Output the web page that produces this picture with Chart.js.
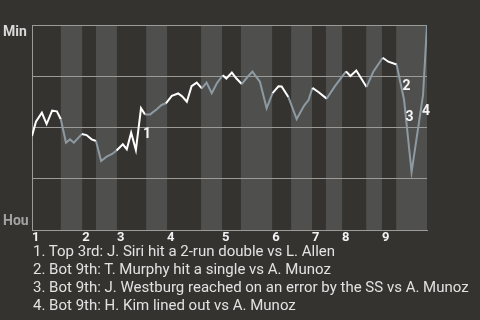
<!DOCTYPE html>
<html>
<head>
<meta charset="utf-8">
<script src="https://cdn.jsdelivr.net/npm/chart.js@4"></script>
<style>
  html, body { margin: 0; padding: 0; background: #353330; }
  body { width: 480px; height: 320px; overflow: hidden; position: relative; font-family: Roboto, sans-serif; }
  #wrap { position: absolute; left: 0; top: 0; width: 480px; height: 250px; }
  #notes { position: absolute; left: 33px; top: 243.4px; margin: 0; padding: 0; list-style: none;
           color: #e2e2e2; font-size: 15px; line-height: 17.8px; white-space: nowrap; }
</style>
</head>
<body>
<div id="wrap"><canvas id="wpChart"></canvas></div>
<ul id="notes"></ul>
<script>
// game progress (0 = first pitch, 100 = final out)
var playX = [0, 1.0, 2.5, 3.7, 5.1, 6.3, 7.3, 8.6, 9.6, 10.6, 11.6, 12.6, 13.8, 15.1, 16.2, 17.5, 18.9, 20.3,
  21.4, 23.0, 24.0, 25.1, 26.3, 27.6, 28.6, 29.9, 31.6, 32.8, 33.9, 35.4, 37.0, 38.0, 39.2, 40.4, 41.7,
  43.0, 44.2, 45.5, 46.8, 48.3, 49.2, 50.6, 51.7, 53.1, 54.5, 55.8, 57.7, 59.4, 60.9, 62.4, 63.2, 64.9,
  67.0, 68.9, 70.0, 71.0, 72.5, 74.6, 76.7, 79.5, 80.6, 82.1, 84.7, 86.4, 88.8, 90.2, 92.3, 93.4, 94.2,
  96.1, 99.0, 100];
// Min win probability after each play
var winProb = [0.459, 0.528, 0.572, 0.517, 0.582, 0.579, 0.540, 0.426, 0.442, 0.426, 0.447, 0.468, 0.463,
  0.442, 0.434, 0.337, 0.358, 0.371, 0.388, 0.418, 0.394, 0.475, 0.390, 0.594, 0.564, 0.564, 0.589, 0.610,
  0.618, 0.654, 0.666, 0.652, 0.626, 0.702, 0.719, 0.691, 0.719, 0.667, 0.716, 0.755, 0.739, 0.768, 0.740,
  0.712, 0.745, 0.773, 0.723, 0.594, 0.668, 0.701, 0.700, 0.649, 0.541, 0.607, 0.634, 0.693, 0.673, 0.641,
  0.702, 0.774, 0.751, 0.778, 0.698, 0.772, 0.840, 0.821, 0.807, 0.707, 0.634, 0.283, 0.659, 1.0];
// start of each half inning (top 1st, bot 1st, ...), last value = end of game
var halfStarts = [0, 7.3, 12.7, 16.2, 21.5, 28.9, 34.2, 42.8, 48.1, 52.9, 60.8, 65.6, 70.9, 74.4, 78.5,
  84.6, 88.6, 92.2, 100];
var inningLabels = ['1', '2', '3', '4', '5', '6', '7', '8', '9'];
var teamTop = 'Min';
var teamBottom = 'Hou';
// key plays: index into winProb + description
var keyPlays = [23, 67, 69, 70];
var keyPlayText = [
  'Top 3rd: J. Siri hit a 2-run double vs L. Allen',
  'Bot 9th: T. Murphy hit a single vs A. Munoz',
  'Bot 9th: J. Westburg reached on an error by the SS vs A. Munoz',
  'Bot 9th: H. Kim lined out vs A. Munoz'
];

var topColor = '#ffffff';
var bottomColor = '#8d9aa2';
var gridColor = '#9b9b98';
// where each marker number sits relative to its play (left x, middle y)
var markerOffsets = [[2, 26], [1.5, 1.5], [-6, -54], [-1, 16.5]];

function isBottomHalf(x) {
  for (var i = 0; i < halfStarts.length - 1; i++) {
    if (x >= halfStarts[i] && x < halfStarts[i + 1]) return i % 2 === 1;
  }
  return true;
}

var notes = document.getElementById('notes');
keyPlayText.forEach(function (t, i) {
  var li = document.createElement('li');
  li.textContent = (i + 1) + '. ' + t;
  notes.appendChild(li);
});

// shaded bottom halves
var bandPlugin = {
  id: 'bands',
  beforeDraw: function (chart) {
    var a = chart.chartArea, xs = chart.scales.x, c = chart.ctx;
    c.save();
    c.fillStyle = '#4f4f4e';
    for (var i = 1; i < halfStarts.length - 1; i += 2) {
      var x0 = xs.getPixelForValue(halfStarts[i]);
      var x1 = xs.getPixelForValue(halfStarts[i + 1]);
      c.fillRect(x0, a.top, x1 - x0, a.bottom - a.top);
    }
    c.restore();
  }
};

// team names + numbered key plays
var labelPlugin = {
  id: 'labels',
  afterDatasetsDraw: function (chart) {
    var a = chart.chartArea, c = chart.ctx;
    var meta = chart.getDatasetMeta(0);
    c.save();
    c.font = 'bold 14px Roboto';
    c.textAlign = 'left';
    c.textBaseline = 'alphabetic';
    c.fillStyle = '#d9d9d9';
    c.fillText(teamTop, 3, a.top + 10.5);
    c.fillStyle = '#a3a3a3';
    c.fillText(teamBottom, 3, a.bottom - 5);

    c.textBaseline = 'middle';
    c.fillStyle = '#f4f4f4';
    keyPlays.forEach(function (idx, i) {
      var p = meta.data[idx];
      c.fillText(String(i + 1), p.x + markerOffsets[i][0], p.y + markerOffsets[i][1]);
    });
    c.restore();
  }
};

var ctx = document.getElementById('wpChart').getContext('2d');
var chart = new Chart(ctx, {
  type: 'line',
  data: {
    datasets: [{
      data: playX.map(function (x, i) { return { x: x, y: winProb[i] }; }),
      borderWidth: 2,
      pointRadius: 0,
      tension: 0,
      borderColor: topColor,
      segment: {
        borderColor: function (s) {
          var mid = (s.p0.parsed.x + s.p1.parsed.x) / 2;
          return isBottomHalf(mid) ? bottomColor : topColor;
        }
      }
    }]
  },
  options: {
    responsive: true,
    maintainAspectRatio: false,
    animation: false,
    layout: { padding: { left: 32, right: 53, top: 25, bottom: 4.4 } },
    plugins: { legend: { display: false }, tooltip: { enabled: false } },
    scales: {
      x: {
        type: 'linear',
        min: 0,
        max: 100,
        afterBuildTicks: function (scale) {
          scale.ticks = halfStarts.filter(function (v, i) { return i % 2 === 0 && i < 18; })
            .map(function (v) { return { value: v }; });
        },
        ticks: {
          autoSkip: false,
          maxRotation: 0,
          align: 'start',
          padding: 0,
          color: '#f2f2f2',
          font: { family: 'Roboto', size: 13, weight: 'bold' },
          callback: function (v, i) { return inningLabels[i]; }
        },
        grid: { color: 'transparent', drawTicks: false },
        border: { display: true, color: gridColor, width: 1 }
      },
      y: {
        min: 0,
        max: 1,
        ticks: { stepSize: 0.25, display: false },
        grid: { color: gridColor, drawTicks: false },
        border: { display: true, color: gridColor, width: 1 }
      }
    }
  },
  plugins: [bandPlugin, labelPlugin]
});
</script>
</body>
</html>
